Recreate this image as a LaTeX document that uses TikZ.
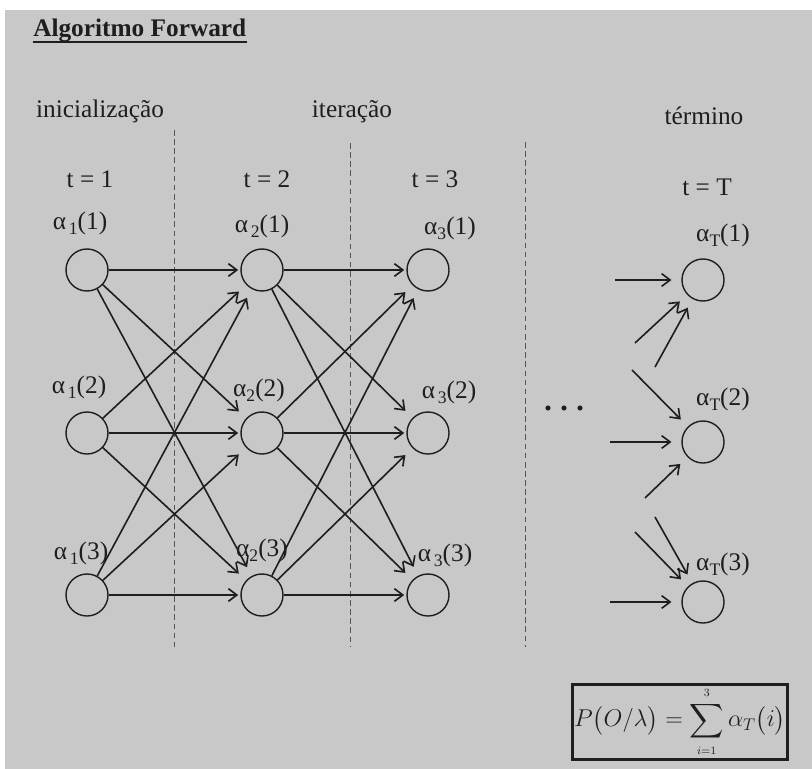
\documentclass[tikz,border=0pt]{standalone}
\usepackage{amsmath,amssymb}
\usepackage{fontspec}
\setmainfont{Liberation Serif}
\usepackage{xcolor}
\usepackage{tikz}
\usetikzlibrary{arrows.meta,positioning}
\definecolor{Ink}{HTML}{1E1E1E}
\definecolor{Paper}{HTML}{C8C8C8}
\newcommand{\alphalabel}[2]{α\raisebox{-4pt}{\fontsize{12.5}{12.5}\selectfont #1}(#2)}
\tikzset{
  state/.style={circle,draw=Ink,line width=1pt,minimum size=1.05cm,inner sep=0pt},
  lbl/.style={font=\fontsize{18}{21}\selectfont,text=Ink,anchor=base,inner sep=0pt},
  arrow/.style={-{Straight Barb[length=6pt,width=9pt]},line width=1.15pt,draw=Ink,shorten >=1.5pt},
  cross/.style={arrow,shorten >=7pt},
  divider/.style={draw=Ink!75,line width=0.6pt,dash pattern=on 4pt off 2.5pt},
  dot/.style={circle,fill=Ink,inner sep=0pt,minimum size=3.6pt}
}

\begin{document}
\begin{tikzpicture}[x=0.025cm,y=-0.025cm]
  \fill[white] (0,0) rectangle (812,769);
  \fill[Paper] (5,10) rectangle (812,769);
  \useasboundingbox (0,0) rectangle (812,769);
  % title and phases
  \node[lbl,anchor=base west,font=\fontsize{18}{21}\selectfont\bfseries] (title) at (33,36) {Algoritmo Forward};
  \draw[Ink,line width=1.4pt] ([yshift=-4pt]title.base west) -- ([yshift=-4pt]title.base east);
  \node[lbl] (ini) at (100,117) {inicialização};
  \node[lbl] (ite) at (352,117) {iteração};
  \node[lbl] (ter) at (704,124) {término};
  \node[lbl] (t1) at (90,187) {t = 1};
  \node[lbl] (t2) at (267,187) {t = 2};
  \node[lbl] (t3) at (435,187) {t = 3};
  \node[lbl] (tT) at (707,195) {t = T};
  % dividers
  \draw[divider] (174,130) -- (174,647);
  \draw[divider] (350,143) -- (350,647);
  \draw[divider] (525,142) -- (525,647);
  % states
  \foreach \c/\x in {1/87,2/262,3/428} {
    \foreach \r/\y in {1/270,2/433,3/595} {
      \node[state] (a\c\r) at (\x,\y) {};
    }
  }
  \foreach \r/\y in {1/280,2/442,3/602}
    \node[state] (aT\r) at (703,\y) {};
  % labels
  \node[lbl] (l11) at (80,229) {\alphalabel{\,1}{1}};
  \node[lbl] (l12) at (79,393) {\alphalabel{\,1}{2}};
  \node[lbl] (l13) at (81,559) {\alphalabel{\,1}{3}};
  \node[lbl] (l21) at (262,232) {\alphalabel{\,2}{1}};
  \node[lbl] (l22) at (259,396) {\alphalabel{2}{2}};
  \node[lbl] (l23) at (262,556) {\alphalabel{2}{3}};
  \node[lbl] (l31) at (450,234) {\alphalabel{3}{1}};
  \node[lbl] (l32) at (449,398) {\alphalabel{\,3}{2}};
  \node[lbl] (l33) at (445,561) {\alphalabel{\,3}{3}};
  \node[lbl] (lT1) at (723,241) {\alphalabel{T}{1}};
  \node[lbl] (lT2) at (723,405) {\alphalabel{T}{2}};
  \node[lbl] (lT3) at (723,570) {\alphalabel{T}{3}};
  % transitions
  \foreach \c/\d in {1/2,2/3} {
    \foreach \i in {1,2,3} {
      \foreach \j in {1,2,3} {
        \ifnum\i=\j
          \draw[arrow] (a\c\i) -- (a\d\j);
        \else
          \draw[cross] (a\c\i) -- (a\d\j);
        \fi
      }
    }
  }
  % incoming stubs at t = T
  \coordinate (h1) at (615,280);
  \coordinate (u1) at (635,343);
  \coordinate (v1) at (655,367);
  \coordinate (d2) at (632,370);
  \coordinate (h2) at (610,442);
  \coordinate (u2) at (645,498);
  \coordinate (d3) at (635,532);
  \coordinate (w3) at (655,517);
  \coordinate (h3) at (610,602);
  \draw[cross] (h1) -- (aT1);
  \draw[cross] (u1) -- (aT1);
  \draw[cross] (v1) -- (aT1);
  \draw[cross] (d2) -- (aT2);
  \draw[cross] (h2) -- (aT2);
  \draw[cross] (u2) -- (aT2);
  \draw[cross] (d3) -- (aT3);
  \draw[cross] (w3) -- (aT3);
  \draw[cross] (h3) -- (aT3);
  % dots
  \foreach \x/\k in {548/1,564/2,580/3}
    \node[dot] (dots\k) at (\x,408) {};
  % result
  \node[draw=Ink,line width=2.1pt,minimum width=5.15cm,minimum height=1.875cm,inner sep=1pt,text=Ink,font=\fontsize{17}{20}\selectfont] (total) at (680,722)
    {$\displaystyle P\bigl(O/\lambda\bigr)=\sum_{\scriptscriptstyle i=1}^{\scriptscriptstyle 3}\alpha_T\bigl(i\bigr)$};
\end{tikzpicture}
\end{document}
